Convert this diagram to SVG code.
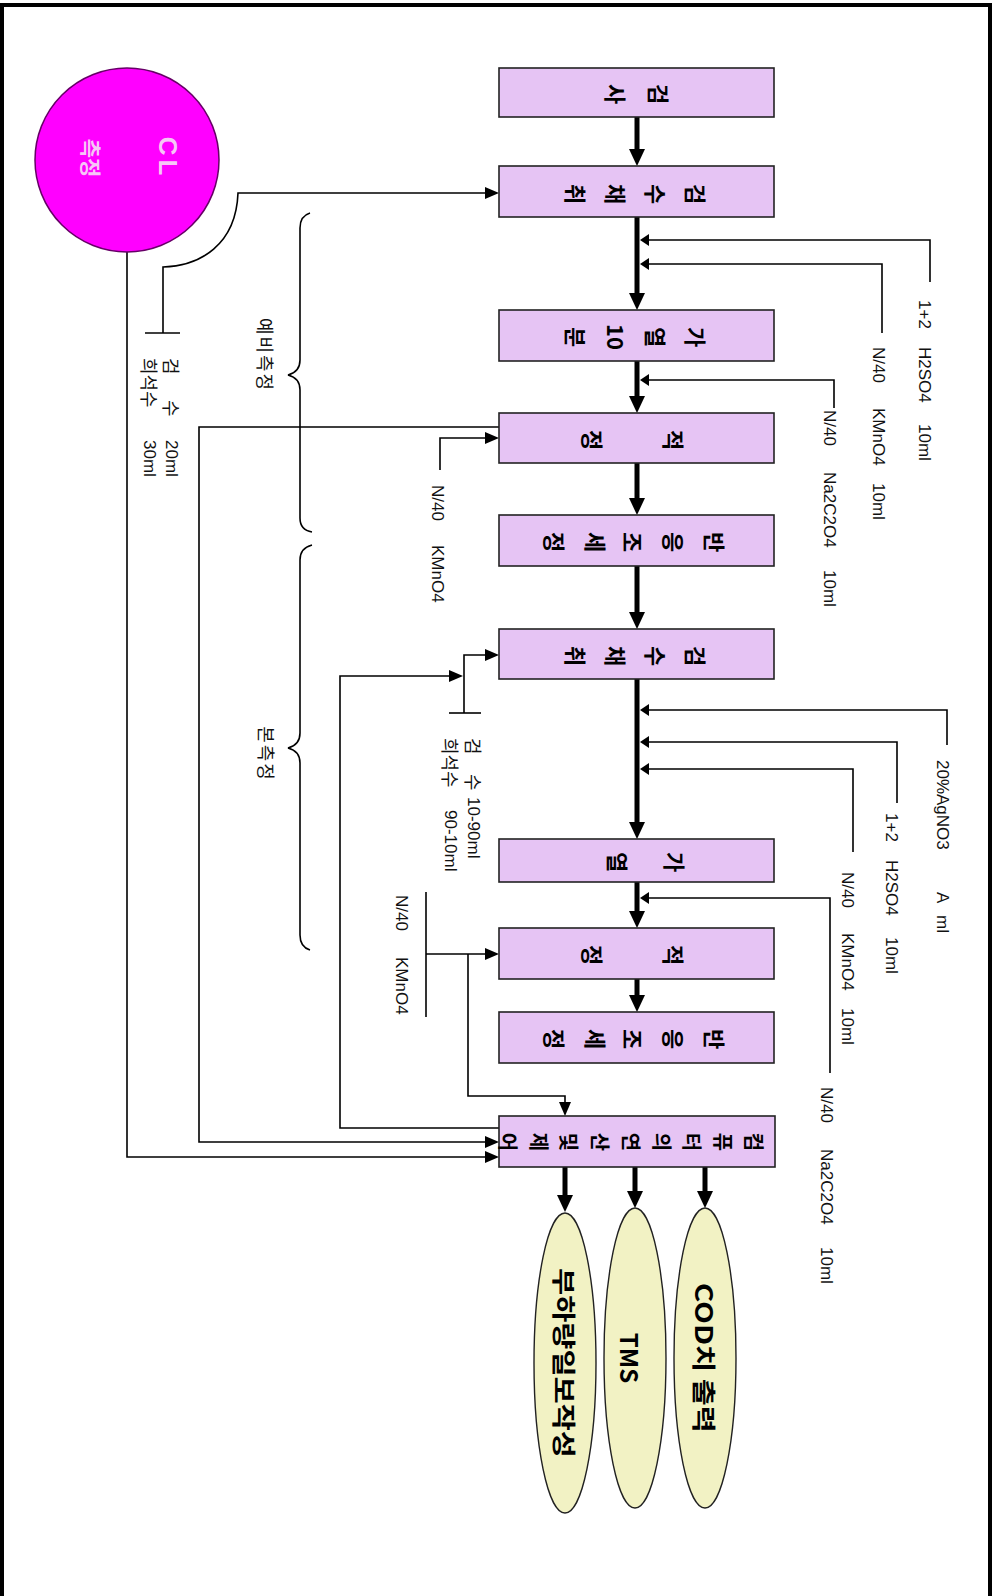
<svg xmlns="http://www.w3.org/2000/svg" width="994" height="1596" viewBox="0 0 994 1596">
<style>
.box{fill:#E6C4F4;stroke:#222;stroke-width:1.6}
.ell{fill:#F2F2C4;stroke:#222;stroke-width:1.4}
.bt{font-family:"Noto Sans CJK KR",sans-serif;font-weight:bold;font-size:22px;text-anchor:middle;dominant-baseline:central;fill:#000}
.ct{font-family:"Noto Sans CJK KR",sans-serif;font-weight:bold;font-size:20px;text-anchor:middle;dominant-baseline:central;fill:#000}
.et{font-family:"Noto Sans CJK KR",sans-serif;font-weight:bold;font-size:24px;text-anchor:middle;dominant-baseline:central;fill:#000}
.lb{font-family:"Liberation Sans","Noto Sans CJK KR",sans-serif;font-size:17px;dominant-baseline:central;fill:#111}
.kl{font-family:"Noto Sans CJK KR",sans-serif;font-size:18px;dominant-baseline:central;fill:#111}
.cw{font-weight:bold;text-anchor:middle;dominant-baseline:central;fill:#F6C6F6}
.main{stroke:#000;stroke-width:5;fill:none}
.thin{stroke:#000;stroke-width:1.6;fill:none}
</style>
<defs>
<marker id="mBig" markerUnits="userSpaceOnUse" viewBox="0 -8 17 16" markerWidth="17" markerHeight="16" refX="0" refY="0" orient="auto"><path d="M0,-8L17,0L0,8z" fill="#000"/></marker>
<marker id="mThin" markerUnits="userSpaceOnUse" viewBox="0 -6 14 12" markerWidth="14" markerHeight="12" refX="0" refY="0" orient="auto"><path d="M0,-6L14,0L0,6z" fill="#000"/></marker>
<marker id="mSide" markerUnits="userSpaceOnUse" viewBox="0 -6 9 12" markerWidth="9" markerHeight="12" refX="0" refY="0" orient="auto"><path d="M0,-6L9,0L0,6z" fill="#000"/></marker>
</defs>
<rect x="0" y="0" width="994" height="1596" fill="#fff"/>
<rect x="2" y="5" width="988" height="1600" fill="none" stroke="#000" stroke-width="4"/>

<g id="connectors">
<path class="main" d="M637,117V149" marker-end="url(#mBig)"/>
<path class="main" d="M637,217V293" marker-end="url(#mBig)"/>
<path class="main" d="M637,361V396" marker-end="url(#mBig)"/>
<path class="main" d="M637,463V498" marker-end="url(#mBig)"/>
<path class="main" d="M637,566V612" marker-end="url(#mBig)"/>
<path class="main" d="M637,679V822" marker-end="url(#mBig)"/>
<path class="main" d="M637,882V911" marker-end="url(#mBig)"/>
<path class="main" d="M637,979V995" marker-end="url(#mBig)"/>
<path class="main" d="M565,1167V1195" marker-end="url(#mBig)"/>
<path class="main" d="M635,1167V1191" marker-end="url(#mBig)"/>
<path class="main" d="M705,1167V1191" marker-end="url(#mBig)"/>

<path class="thin" d="M930,282V240H649" marker-end="url(#mSide)"/>
<path class="thin" d="M882,333V264H649" marker-end="url(#mSide)"/>
<path class="thin" d="M834,408V380H649" marker-end="url(#mSide)"/>
<path class="thin" d="M947,745V710H649" marker-end="url(#mSide)"/>
<path class="thin" d="M897,803V742H649" marker-end="url(#mSide)"/>
<path class="thin" d="M853,852V769H649" marker-end="url(#mSide)"/>
<path class="thin" d="M830,1073V898H649" marker-end="url(#mSide)"/>

<path class="thin" d="M127,252V1157H485" marker-end="url(#mThin)"/>
<path class="thin" d="M499,427H199V1142H485" marker-end="url(#mThin)"/>
<path class="thin" d="M163,333V267C200,266 236,245 238,193H485" marker-end="url(#mThin)"/>
<path class="thin" d="M145,333H180"/>
<path class="thin" d="M464,713V655H485" marker-end="url(#mThin)"/>
<path class="thin" d="M449,713H481"/>
<path class="thin" d="M499,1128H340V676H449" marker-end="url(#mThin)"/>
<path class="thin" d="M440,470V438H485" marker-end="url(#mThin)"/>
<path class="thin" d="M426,892V1017"/>
<path class="thin" d="M426,954H485" marker-end="url(#mThin)"/>
<path class="thin" d="M468,954V1096H565V1102" marker-end="url(#mThin)"/>

<path class="thin" d="M310,213Q300,216 300,228V360Q300,372 288,375Q300,378 300,390V518Q300,530 312,532"/>
<path class="thin" d="M312,545Q300,548 300,560V733Q300,745 288,748Q300,751 300,763V935Q300,947 310,950"/>
</g>

<g id="labels">
<text class="lb" transform="translate(925,300) rotate(90)"><tspan x="0">1+2</tspan><tspan x="47">H2SO4</tspan><tspan x="124">10ml</tspan></text>
<text class="lb" transform="translate(879,347) rotate(90)"><tspan x="0">N/40</tspan><tspan x="61">KMnO4</tspan><tspan x="136">10ml</tspan></text>
<text class="lb" transform="translate(830,410) rotate(90)"><tspan x="0">N/40</tspan><tspan x="62">Na2C2O4</tspan><tspan x="160">10ml</tspan></text>
<text class="lb" transform="translate(438,485) rotate(90)"><tspan x="0">N/40</tspan><tspan x="60">KMnO4</tspan></text>
<text class="lb" transform="translate(943,760) rotate(90)"><tspan x="0">20%AgNO3</tspan><tspan x="132">A</tspan><tspan x="155">ml</tspan></text>
<text class="lb" transform="translate(892,813) rotate(90)"><tspan x="0">1+2</tspan><tspan x="47">H2SO4</tspan><tspan x="124">10ml</tspan></text>
<text class="lb" transform="translate(848,872) rotate(90)"><tspan x="0">N/40</tspan><tspan x="61">KMnO4</tspan><tspan x="136">10ml</tspan></text>
<text class="lb" transform="translate(827,1087) rotate(90)"><tspan x="0">N/40</tspan><tspan x="62">Na2C2O4</tspan><tspan x="160">10ml</tspan></text>
<text class="lb" transform="translate(402,895) rotate(90)"><tspan x="0">N/40</tspan><tspan x="62">KMnO4</tspan></text>

<text class="kl" transform="translate(172,358) rotate(90)"><tspan x="0">검</tspan><tspan x="42">수</tspan><tspan class="lb" x="82">20ml</tspan></text>
<text class="kl" transform="translate(150,358) rotate(90)"><tspan x="0">희석수</tspan><tspan class="lb" x="82">30ml</tspan></text>
<text class="kl" transform="translate(474,738) rotate(90)"><tspan x="0">검</tspan><tspan x="36">수</tspan><tspan class="lb" x="59">10-90ml</tspan></text>
<text class="kl" transform="translate(451,738) rotate(90)"><tspan x="0">희석수</tspan><tspan class="lb" x="72">90-10ml</tspan></text>

<text class="kl" text-anchor="middle" transform="translate(266,355) rotate(90)" letter-spacing="2">예비측정</text>
<text class="kl" text-anchor="middle" transform="translate(267,754) rotate(90)" letter-spacing="2">본측정</text>
</g>

<g id="cl">
<circle cx="127" cy="160" r="92" fill="#FF00FF" stroke="#660066" stroke-width="1.5"/>
<text class="cw" transform="translate(168,158) rotate(90)" font-family="Liberation Sans, sans-serif" font-size="26" letter-spacing="4">CL</text>
<text class="cw" transform="translate(92,158) rotate(90)" font-family="Noto Sans CJK KR, sans-serif" font-size="21">측정</text>
</g>

<g id="n1"><rect class="box" x="499" y="68" width="275" height="49"/>
<text class="bt" transform="translate(660,94) rotate(90)">검</text><text class="bt" transform="translate(617,94) rotate(90)">사</text></g>
<g id="n2"><rect class="box" x="499" y="166" width="275" height="51"/>
<text class="bt" transform="translate(697,194) rotate(90)">검</text><text class="bt" transform="translate(657,194) rotate(90)">수</text><text class="bt" transform="translate(617,194) rotate(90)">채</text><text class="bt" transform="translate(577,194) rotate(90)">취</text></g>
<g id="n3"><rect class="box" x="499" y="310" width="275" height="51"/>
<text class="bt" transform="translate(697,337) rotate(90)">가</text><text class="bt" transform="translate(657,337) rotate(90)">열</text><text class="bt" transform="translate(617,337) rotate(90)">10</text><text class="bt" transform="translate(577,337) rotate(90)">분</text></g>
<g id="n4"><rect class="box" x="499" y="413" width="275" height="50"/>
<text class="bt" transform="translate(675,440) rotate(90)">적</text><text class="bt" transform="translate(594,440) rotate(90)">정</text></g>
<g id="n5"><rect class="box" x="499" y="515" width="275" height="51"/>
<text class="bt" transform="translate(716,542) rotate(90)">반</text><text class="bt" transform="translate(675,542) rotate(90)">응</text><text class="bt" transform="translate(634,542) rotate(90)">조</text><text class="bt" transform="translate(597,542) rotate(90)">세</text><text class="bt" transform="translate(556,542) rotate(90)">정</text></g>
<g id="n6"><rect class="box" x="499" y="629" width="275" height="50"/>
<text class="bt" transform="translate(697,656) rotate(90)">검</text><text class="bt" transform="translate(657,656) rotate(90)">수</text><text class="bt" transform="translate(617,656) rotate(90)">채</text><text class="bt" transform="translate(577,656) rotate(90)">취</text></g>
<g id="n7"><rect class="box" x="499" y="839" width="275" height="43"/>
<text class="bt" transform="translate(676,862) rotate(90)">가</text><text class="bt" transform="translate(619,862) rotate(90)">열</text></g>
<g id="n8"><rect class="box" x="499" y="928" width="275" height="51"/>
<text class="bt" transform="translate(675,955) rotate(90)">적</text><text class="bt" transform="translate(594,955) rotate(90)">정</text></g>
<g id="n9"><rect class="box" x="499" y="1012" width="275" height="51"/>
<text class="bt" transform="translate(716,1039) rotate(90)">반</text><text class="bt" transform="translate(675,1039) rotate(90)">응</text><text class="bt" transform="translate(634,1039) rotate(90)">조</text><text class="bt" transform="translate(597,1039) rotate(90)">세</text><text class="bt" transform="translate(556,1039) rotate(90)">정</text></g>
<g id="n10"><rect class="box" x="499" y="1116" width="276" height="51"/>
<text class="ct" transform="translate(754,1142) rotate(90)">컴</text><text class="ct" transform="translate(723,1142) rotate(90)">퓨</text><text class="ct" transform="translate(692,1142) rotate(90)">터</text><text class="ct" transform="translate(662,1142) rotate(90)">의</text><text class="ct" transform="translate(631,1142) rotate(90)">연</text><text class="ct" transform="translate(600,1142) rotate(90)">산</text><text class="ct" transform="translate(569,1142) rotate(90)">및</text><text class="ct" transform="translate(539,1142) rotate(90)">제</text><text class="ct" transform="translate(508,1142) rotate(90)">어</text></g>

<g id="o1"><ellipse class="ell" cx="565" cy="1363" rx="31" ry="150"/>
<text class="et" transform="translate(565,1363) rotate(90)" textLength="190" lengthAdjust="spacingAndGlyphs">부하량일보작성</text></g>
<g id="o2"><ellipse class="ell" cx="635" cy="1358" rx="31" ry="150"/>
<text class="et" font-size="21" transform="translate(630,1358) rotate(90)" font-family="Liberation Sans, sans-serif">TMS</text></g>
<g id="o3"><ellipse class="ell" cx="705" cy="1358" rx="31" ry="150"/>
<text class="et" font-size="22" transform="translate(705,1358) rotate(90)" textLength="150" lengthAdjust="spacingAndGlyphs">COD치 출력</text></g>
</svg>
